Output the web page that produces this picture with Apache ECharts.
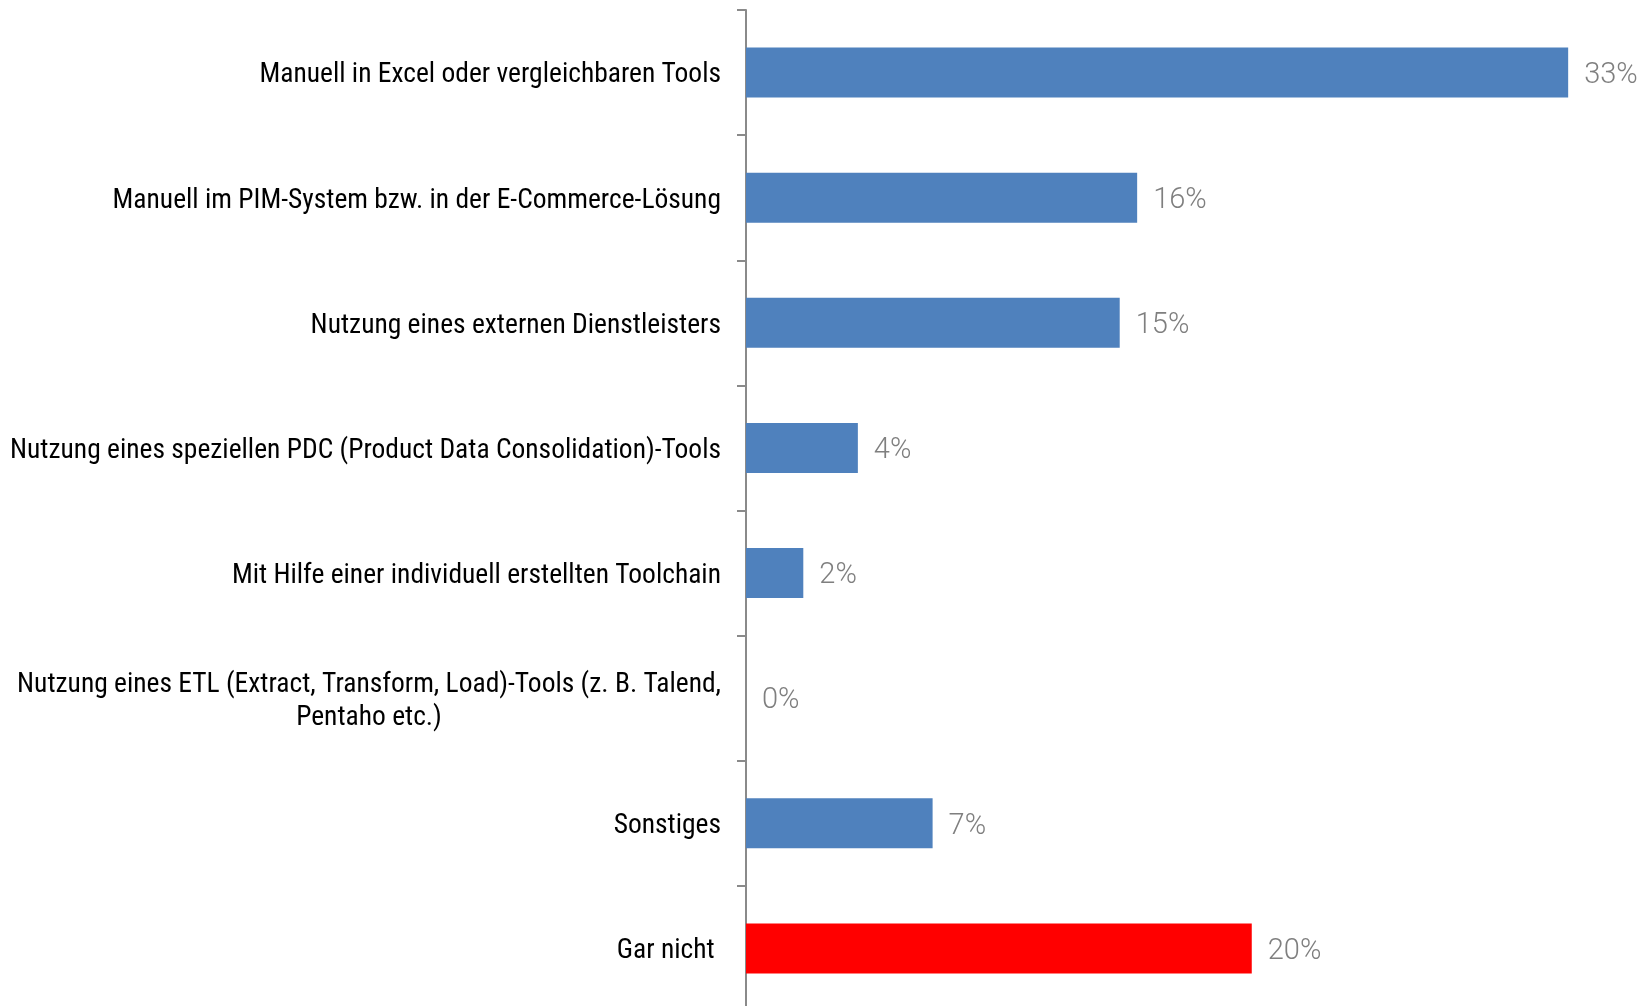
<!DOCTYPE html>
<html>
<head>
<meta charset="utf-8">
<script src="https://cdn.jsdelivr.net/npm/echarts@6/dist/echarts.min.js"></script>
<style>
html,body{margin:0;padding:0;background:#fff;}
#chart{width:1643px;height:1006px;}
</style>
</head>
<body>
<div id="chart"></div>
<script>
const categories = [
  "Manuell in Excel oder vergleichbaren Tools",
  "Manuell im PIM-System bzw. in der E-Commerce-Lösung",
  "Nutzung eines externen Dienstleisters",
  "Nutzung eines speziellen PDC (Product Data Consolidation)-Tools",
  "Mit Hilfe einer individuell erstellten Toolchain",
  "Nutzung eines ETL (Extract, Transform, Load)-Tools (z. B. Talend,\nPentaho etc.)",
  "Sonstiges",
  "Gar nicht "
];
const values = [33.0, 15.7, 15.0, 4.49, 2.3, 0, 7.49, 20.3];
const barColors = ["#4F81BD","#4F81BD","#4F81BD","#4F81BD","#4F81BD","#4F81BD","#4F81BD","#FF0000"];

const chart = echarts.init(document.getElementById('chart'));
chart.setOption({
  animation: false,
  grid: { left: 746, right: 25, top: 10, bottom: -5, containLabel: false, outerBoundsMode: 'none' },
  xAxis: { type: 'value', min: 0, max: 35, show: false },
  yAxis: {
    type: 'category',
    inverse: true,
    data: categories,
    axisLine: { show: true, lineStyle: { color: '#8a8a8a', width: 2 } },
    axisTick: { show: true, length: 9, lineStyle: { color: '#8a8a8a', width: 2 } },
    axisLabel: {
      margin: 25,
      padding: [6, 0, 0, 0],
      formatter: function (v) {
        return v.split('\n').map(function (l) { return '{c|' + l + '}'; }).join('\n');
      },
      rich: {
        c: {
          align: 'center',
          fontFamily: '"Liberation Sans Narrow", "Arial Narrow", "Roboto Condensed", sans-serif',
          fontSize: 27.5,
          color: '#000',
          lineHeight: 33
        }
      }
    }
  },
  series: [{
    type: 'bar',
    data: values.map(function (v, i) { return { value: v, itemStyle: { color: barColors[i] } }; }),
    barCategoryGap: '60%',
    label: {
      show: true,
      position: 'right',
      distance: 16,
      offset: [0, 3],
      formatter: function (p) { return Math.round(p.value) + '%'; },
      fontFamily: 'Roboto',
      fontWeight: 300,
      fontSize: 29,
      color: '#7f7f7f'
    }
  }]
});
</script>
</body>
</html>
